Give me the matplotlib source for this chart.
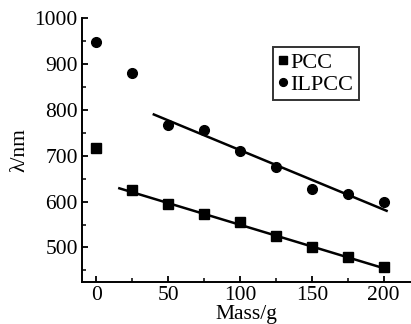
import matplotlib
matplotlib.use("Agg")
import matplotlib.pyplot as plt
from matplotlib.ticker import MultipleLocator

plt.rcParams['font.family'] = ['Liberation Serif', 'DejaVu Serif']

# data
mass = [0, 25, 50, 75, 100, 125, 150, 175, 200]
pcc = [717, 626, 594, 574, 556, 526, 502, 480, 458]
ilpcc = [948, 880, 766, 757, 710, 675, 628, 617, 600]

# fitted lines (end points)
pcc_fit_x = [16, 203]
pcc_fit_y = [629, 452]
ilpcc_fit_x = [40, 202]
ilpcc_fit_y = [790, 580]

fig = plt.figure(figsize=(4.11, 3.24), dpi=100)
ax = fig.add_axes([0.1995, 0.13, 0.8005, 0.814])

ax.plot(mass, pcc, 's', color='black', markersize=6.5, label='PCC', zorder=3)
ax.plot(mass, ilpcc, 'o', color='black', markersize=7, label='ILPCC', zorder=3)
ax.plot(pcc_fit_x, pcc_fit_y, '-', color='black', lw=1.8)
ax.plot(ilpcc_fit_x, ilpcc_fit_y, '-', color='black', lw=1.8)

ax.set_xlim(-10, 219)
ax.set_ylim(425, 1000)
ax.xaxis.set_major_locator(MultipleLocator(50))
ax.xaxis.set_minor_locator(MultipleLocator(25))
ax.yaxis.set_major_locator(MultipleLocator(100))
ax.yaxis.set_minor_locator(MultipleLocator(50))

for s in ['top', 'right']:
    ax.spines[s].set_visible(False)
for s in ['left', 'bottom']:
    ax.spines[s].set_linewidth(1.4)

ax.tick_params(which='major', direction='in', length=4.5, width=1.3,
               labelsize=15.5, pad=3)
ax.tick_params(which='minor', direction='in', length=3, width=1.1)

ax.set_xlabel('Mass/g', fontsize=15.5, labelpad=0)
ax.set_ylabel('λ/nm', fontsize=15.5, labelpad=4)

leg = ax.legend(loc='upper left', bbox_to_anchor=(0.58, 0.89), fontsize=16,
                frameon=True, fancybox=False, edgecolor='black',
                handlelength=0.4, handletextpad=0.15, borderpad=0.25,
                labelspacing=0.05, markerscale=0.8, borderaxespad=0)
leg.get_frame().set_linewidth(1.4)

fig.savefig('out.png', dpi=100)
